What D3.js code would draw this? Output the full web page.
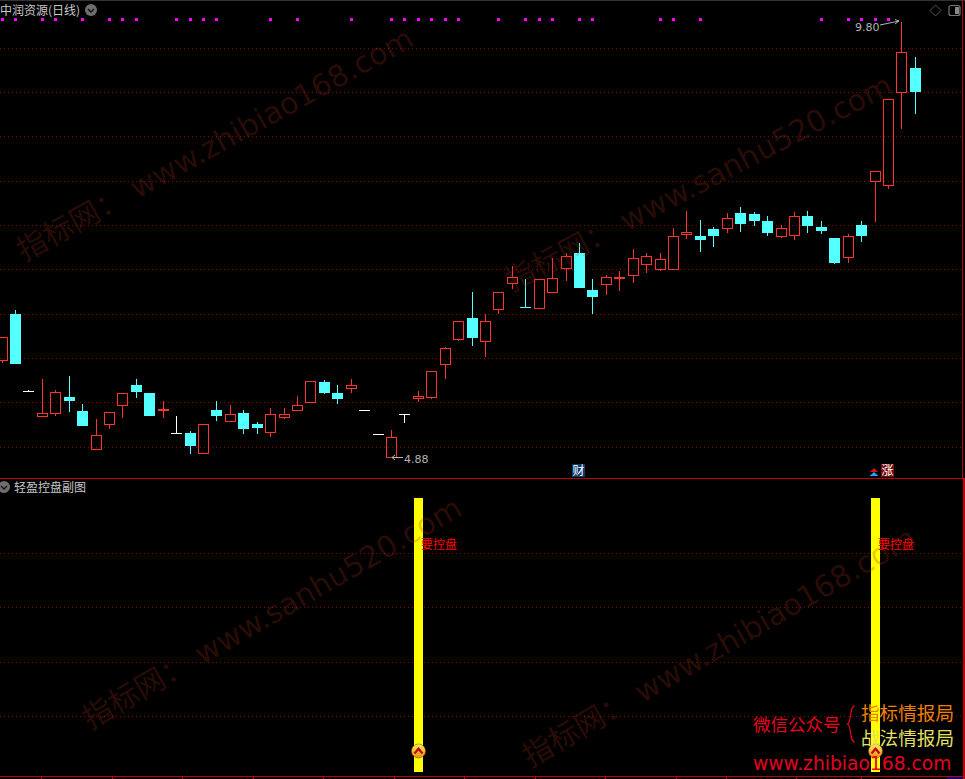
<!DOCTYPE html>
<html><head><meta charset="utf-8">
<script src="https://cdn.jsdelivr.net/npm/d3@7"></script>
<style>html,body{margin:0;padding:0;background:#000;overflow:hidden}svg{display:block}</style>
</head><body><svg id="c" width="965" height="779"></svg>
<script>
const opens=[5.97,6.50,5.64,5.34,5.38,5.57,5.41,4.97,5.25,5.47,5.70,5.61,5.41,5.16,5.16,4.93,5.42,5.29,5.39,5.26,5.16,5.33,5.41,5.50,5.74,5.61,5.66,5.42,5.15,4.88,5.38,5.55,5.56,5.93,6.21,6.46,6.19,6.55,6.84,6.58,6.56,6.74,7.01,7.19,6.78,6.83,6.90,6.93,7.06,7.00,7.00,7.40,7.39,7.46,7.46,7.64,7.63,7.55,7.37,7.39,7.61,7.49,7.36,7.14,7.51,7.99,7.95,9.00,9.28];
const closes=[6.25,5.94,5.64,5.39,5.63,5.52,5.24,5.14,5.40,5.61,5.63,5.35,5.43,5.16,5.02,5.26,5.35,5.38,5.21,5.22,5.38,5.38,5.48,5.75,5.61,5.55,5.70,5.42,5.15,5.12,5.38,5.58,5.86,6.12,6.43,6.23,6.43,6.75,6.92,6.58,6.90,6.91,7.16,6.80,6.70,6.92,6.92,7.14,7.16,7.13,7.39,7.43,7.34,7.39,7.59,7.52,7.55,7.42,7.48,7.61,7.50,7.44,7.08,7.39,7.39,8.12,8.93,9.46,9.01];
const highs=[6.25,6.55,5.65,5.77,5.65,5.81,5.49,5.32,5.40,5.61,5.77,5.61,5.52,5.35,5.19,5.26,5.52,5.48,5.42,5.29,5.44,5.44,5.58,5.75,5.76,5.70,5.77,5.42,5.15,5.20,5.38,5.64,5.86,6.13,6.43,6.75,6.50,6.75,7.05,6.90,6.90,7.14,7.19,7.31,6.90,6.94,6.99,7.24,7.19,7.19,7.48,7.67,7.57,7.49,7.64,7.71,7.66,7.61,7.51,7.66,7.67,7.55,7.36,7.41,7.55,8.12,8.93,9.80,9.40];
const lows=[5.95,5.94,5.64,5.34,5.35,5.40,5.24,4.97,5.21,5.33,5.56,5.35,5.33,5.16,4.93,4.93,5.30,5.29,5.15,5.15,5.12,5.32,5.41,5.50,5.60,5.49,5.61,5.42,5.15,4.88,5.29,5.51,5.55,5.77,6.20,6.14,6.02,6.50,6.79,6.58,6.56,6.74,6.88,6.80,6.50,6.72,6.76,6.86,6.97,6.99,7.00,7.35,7.20,7.26,7.42,7.43,7.50,7.39,7.36,7.34,7.42,7.41,7.07,7.08,7.32,7.54,7.92,8.59,8.76];
const flatDownIdx=[39];
const signalDots=[0,1,3,4,6,8,9,10,13,14,15,16,20,22,26,29,30,31,32,33,34,37,39,40,41,43,44,49,50,52,61,63,64,65,66];
const priceGrid=[5,5.5,6,6.5,7,7.5,8,8.5,9,9.5];
const subGrid=[20,40,60,80];
const subBarIdx=[31,65];
const subBarValue=100;
const timeTicks=[41,112,182,253,323,394,464,535,605,676,726,796,861];
const title="中润资源(日线)";
const subTitle="轻盈控盘副图";
const signalLabel="要控盘";
const highLabel="9.80", lowLabel="4.88";
const watermarks=[
 {t:"指标网： www.zhibiao168.com",x:24,y:262,a:-29,s:30},
 {t:"指标网： www.sanhu520.com",x:512,y:292,a:-27.6,s:30},
 {t:"指标网： www.sanhu520.com",x:90,y:730,a:-30,s:30},
 {t:"指标网： www.zhibiao168.com",x:530,y:768,a:-30,s:30}];

const RED="#ff3232",CYAN="#54ffff",WHITE="#ffffff",AXIS="#c00000",GRID="#800808";
const CJK='"Noto Sans CJK SC","Noto Sans",sans-serif';
const svg=d3.select("#c");
svg.append("rect").attr("width",965).attr("height",779).attr("fill","#000");
const x=d3.scaleLinear().domain([0,68]).range([2.1,915.3]);
const y=d3.scaleLinear().domain([4.88,9.80]).range([458,22]);
const ys=d3.scaleLinear().domain([0,100]).range([771.5,498.5]);
const col=i=>Math.floor(x(i));
const py=v=>Math.round(y(v));

const defs=svg.append("defs");
const pat=defs.append("pattern").attr("id","dots").attr("patternUnits","userSpaceOnUse").attr("width",4).attr("height",1);
pat.append("rect").attr("width",1).attr("height",1).attr("fill",GRID);

// frame
const crisp=svg.append("g").attr("shape-rendering","crispEdges");
crisp.append("rect").attr("x",0).attr("y",0).attr("width",965).attr("height",1).attr("fill","#333");
// grids
crisp.selectAll(".g").data(priceGrid).join("rect").attr("x",0).attr("width",962).attr("height",1)
 .attr("y",d=>Math.floor(y(d)-0.25)).attr("fill","url(#dots)");
crisp.selectAll(".gs").data(subGrid).join("rect").attr("x",0).attr("width",962).attr("height",1)
 .attr("y",d=>Math.floor(ys(d))).attr("fill","url(#dots)");
crisp.append("rect").attr("x",0).attr("y",478).attr("width",965).attr("height",1).attr("fill",AXIS);
crisp.append("rect").attr("x",0).attr("y",776).attr("width",965).attr("height",1).attr("fill",AXIS);
crisp.append("rect").attr("x",962).attr("y",0).attr("width",1).attr("height",478).attr("fill",AXIS);
crisp.append("rect").attr("x",963).attr("y",478).attr("width",2).attr("height",301).attr("fill",AXIS);
crisp.selectAll(".tt").data(timeTicks).join("rect").attr("x",d=>d).attr("y",776).attr("width",1).attr("height",3).attr("fill",AXIS);
crisp.append("rect").attr("x",947).attr("y",777).attr("width",16).attr("height",2).attr("fill","#000080");

// signal dots
crisp.selectAll(".dot").data(signalDots).join("rect")
 .attr("x",d=>col(d)-1).attr("y",18).attr("width",3).attr("height",3).attr("fill","#ff00ff");

// candles
const data=opens.map((o,i)=>({i,o,c:closes[i],h:highs[i],l:lows[i]}));
const colorOf=d=>d.c>d.o?RED:d.c<d.o?CYAN:(flatDownIdx.includes(d.i)?CYAN:WHITE);
const cg=crisp.append("g");
data.forEach(d=>{
 const c=colorOf(d),cx=col(d.i),top=py(Math.max(d.o,d.c)),bot=py(Math.min(d.o,d.c)),hi=py(d.h),lo=py(d.l);
 if(d.o===d.c){
  cg.append("rect").attr("x",cx).attr("y",hi).attr("width",1).attr("height",Math.max(lo-hi,0)+1).attr("fill",c);
  cg.append("rect").attr("x",cx-5).attr("y",top).attr("width",11).attr("height",1).attr("fill",c);
  return;
 }
 if(hi<top) cg.append("rect").attr("x",cx).attr("y",hi).attr("width",1).attr("height",top-hi).attr("fill",c);
 if(lo>bot) cg.append("rect").attr("x",cx).attr("y",bot).attr("width",1).attr("height",lo-bot).attr("fill",c);
 if(d.c>d.o){
  cg.append("rect").attr("x",cx-4.5).attr("y",top+.5).attr("width",10).attr("height",Math.max(bot-top-1,1))
   .attr("fill","none").attr("stroke",c);
 }else{
  cg.append("rect").attr("x",cx-5).attr("y",top).attr("width",11).attr("height",bot-top).attr("fill",c);
 }
});

// sub pane bars
crisp.selectAll(".bar").data(subBarIdx).join("rect")
 .attr("x",d=>col(d)-4).attr("y",Math.floor(ys(subBarValue))).attr("width",9)
 .attr("height",Math.ceil(ys(0))-Math.floor(ys(subBarValue))).attr("fill","#ffff00");

// watermarks
svg.append("g").selectAll("text").data(watermarks).join("text")
 .attr("transform",d=>`translate(${d.x},${d.y}) rotate(${d.a})`)
 .attr("font-family",'"DejaVu Sans","Noto Sans CJK SC",sans-serif').attr("font-size",d=>d.s)
 .attr("fill","rgb(170,50,30)").attr("fill-opacity",.25).text(d=>d.t);

// circle badges
const rg=defs.append("linearGradient").attr("id","badge").attr("x1",0).attr("x2",0).attr("y1",0).attr("y2",1);
rg.append("stop").attr("offset","0%").attr("stop-color","#fff060");
rg.append("stop").attr("offset","100%").attr("stop-color","#f08a10");
subBarIdx.forEach(i=>{
 const cx=col(i)+.5,cy=751;
 const g=svg.append("g").attr("transform",`translate(${cx},${cy})`);
 g.append("circle").attr("r",7).attr("fill","url(#badge)").attr("stroke","#7a5a10").attr("stroke-width",.6);
 g.append("path").attr("d","M-5,2 L0,-4 L5,2 L3,3 L0,-0.5 L-3,3 Z").attr("fill","#c00010");
 svg.append("text").attr("x",col(i)+3).attr("y",549).attr("font-family",CJK).attr("font-size",12)
  .attr("fill","#ff0000").text(signalLabel);
});

// titles
function label(t,xp,yp,fs,fill,fam,anchor){return svg.append("text").attr("x",xp).attr("y",yp).attr("font-size",fs).attr("fill",fill).attr("font-family",fam||CJK).attr("text-anchor",anchor||"start").text(t);}
label(title,0,15,12,"#c8c8c8");
label(subTitle,14,492,12,"#c8c8c8");
function chev(cx,cy){
 svg.append("circle").attr("cx",cx).attr("cy",cy).attr("r",6).attr("fill","#6e6e6e");
 svg.append("path").attr("d",`M${cx-3},${cy-1} L${cx},${cy+2} L${cx+3},${cy-1}`).attr("fill","none").attr("stroke","#111").attr("stroke-width",1.4);
}
chev(91,10); chev(4,487);

// high / low annotations
const NUM='"DejaVu Sans",sans-serif';
label(highLabel,855,31,11,"#b4b4b4",NUM);
label(lowLabel,404,463,11,"#b4b4b4",NUM);
const ax=svg.append("g").attr("fill","none").attr("stroke","#b4b4b4");
ax.append("path").attr("d",`M880,25 L${col(67)-2},21 M${col(67)-6},19.5 L${col(67)-2},21 L${col(67)-6},24`);
ax.append("path").attr("d",`M403,457.5 L${col(29)+1},457.5 M${col(29)+4},455 L${col(29)+1},457.5 L${col(29)+4},460`);

// event markers
crisp.append("rect").attr("x",572).attr("y",464).attr("width",13).attr("height",13).attr("fill","#0c3a6e");
label("财",572.5,475,12,"#ffffff");
crisp.append("rect").attr("x",881).attr("y",464).attr("width",13).attr("height",13).attr("fill","#7a0a0a");
label("涨",881.5,475,12,"#ffffff");
svg.append("path").attr("d","M874,468 L878,472 L870,472 Z").attr("fill","#e01010");
svg.append("path").attr("d","M874,472 L878.5,476 L869.5,476 Z").attr("fill","#20a0ff");

// top-right icons
svg.append("path").attr("d","M935.5,5 L941,10.5 L935.5,16 L930,10.5 Z").attr("fill","none").attr("stroke","#555");
svg.append("rect").attr("x",949).attr("y",5.5).attr("width",11).attr("height",10).attr("rx",2).attr("fill","none").attr("stroke","#777").attr("stroke-width",1.2);
crisp.append("rect").attr("x",955).attr("y",7).attr("width",4).attr("height",7).attr("fill","#888");

// promo
label("微信公众号",753,731,17.5,"#e8001c");
label("指标情报局",861,719.5,18.6,"#f08000");
label("战法情报局",861,745,18.6,"#e4e060");
label("www.zhibiao168.com",753,770,18.7,"#e60020",NUM);
svg.append("path").attr("d","M855,706 C849,706 852,722 847.5,724 C852,726 849,742 855,742").attr("fill","none").attr("stroke","#e8001c").attr("stroke-width",1.2);
</script></body></html>
